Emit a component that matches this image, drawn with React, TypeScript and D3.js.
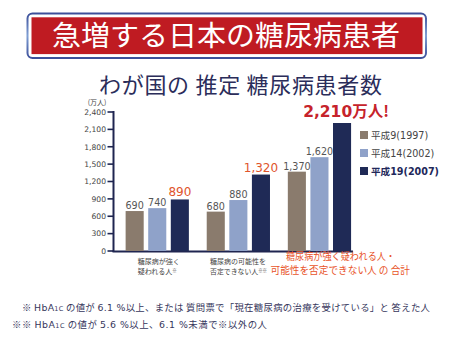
import React from "react";
import * as d3 from "d3";

const seriesNames = ["平成9(1997)", "平成14(2002)", "平成19(2007)"];
const seriesColors = ["#8a7b6d", "#8fa2c9", "#1f2a56"];
const groups = ["strong", "possible", "total"];
const h9 = [690, 680, 1370];
const h14 = [740, 880, 1620];
const h19 = [890, 1320, 2210];
const yTicks = [0, 300, 600, 900, 1200, 1500, 1800, 2100, 2400];
const catLines1 = ["糖尿病が強く", "疑われる人"];
const catLines2 = ["糖尿病の可能性を", "否定できない人"];
const catLines3 = ["糖尿病が強く疑われる人・", "可能性を否定できない人 の 合計"];

const W = 450;
const H = 338;
const CJK = "'Noto Sans CJK JP', 'Noto Sans', sans-serif";
const LAT = "'DejaVu Sans', Verdana, 'Noto Sans CJK JP', sans-serif";

export default function App() {
  const values = [h9, h14, h19];
  const y = d3.scaleLinear().domain([0, 2400]).range([251, 112]);
  const x0 = d3.scaleBand<string>().domain(groups).range([116.7, 360]).paddingInner(0.22).paddingOuter(0.11);
  const x1 = d3.scaleBand<string>().domain(seriesNames).range([0, x0.bandwidth()]).paddingInner(0.2);
  const fmt = d3.format(",");

  return (
    <svg width={W} height={H} style={{ position: "absolute", left: 0, top: 0, background: "#fff" }}>
      <defs>
        <linearGradient id="bord" x1="0" y1="0" x2="0" y2="1">
          <stop offset="0" stopColor="#3c4f9a" />
          <stop offset="0.5" stopColor="#7f9fd4" />
          <stop offset="1" stopColor="#3c4f9a" />
        </linearGradient>
      </defs>
      {/* Title banner */}
      <rect x={27.5} y={13.5} width={398.5} height={44.5} rx={5} fill="#fff" stroke="url(#bord)" strokeWidth={2} />
      <rect x={31.5} y={17.3} width={391} height={36.8} fill="#bf1b22" />
      <text x={52} y={46} fill="#fff" fontFamily={CJK} fontSize={28.5} textLength={348} lengthAdjust="spacingAndGlyphs">
        急増する日本の糖尿病患者
      </text>

      {/* Subtitle */}
      <text x={99} y={93} fill="#2b2d5a" fontFamily={CJK} fontSize={22} textLength={283} lengthAdjust="spacing" style={{ whiteSpace: "pre" }}>
        わが国の 推定 糖尿病患者数
      </text>

      {/* unit */}
      <text x={97} y={105} textAnchor="middle" fill="#444" fontFamily={CJK} fontSize={7}>(万人)</text>

      {/* y axis */}
      <line x1={113.5} x2={113.5} y1={y(2400) - 1} y2={y(0) + 1} stroke="#1f2550" strokeWidth={2} />
      {yTicks.map((t) => (
        <g key={t}>
          <line x1={107.5} x2={113.5} y1={y(t)} y2={y(t)} stroke="#1f2550" strokeWidth={1.6} />
          <text x={106} y={y(t) + 2.8} textAnchor="end" fill="#444" fontFamily={LAT} fontSize={7.6}>
            {fmt(t)}
          </text>
        </g>
      ))}
      {/* x axis */}
      <line x1={112.5} x2={353} y1={y(0) + 0.5} y2={y(0) + 0.5} stroke="#1f2550" strokeWidth={2} />

      {/* bars */}
      {groups.map((g, gi) => (
        <g key={g} transform={`translate(${x0(g)},0)`}>
          {seriesNames.map((s, si) => {
            const v = values[si][gi];
            const bx = x1(s)!;
            const bw = x1.bandwidth();
            return (
              <rect key={s} x={bx} y={y(v)} width={bw} height={y(0) - y(v)} fill={seriesColors[si]} />
            );
          })}
          {seriesNames.map((s, si) => {
            const v = values[si][gi];
            const cx = x1(s)! + x1.bandwidth() / 2;
            const highlight = si === 2 && gi < 2;
            const big = si === 2 && gi === 2;
            if (big) return null;
            return (
              <text
                key={s + "l"}
                x={cx}
                y={y(v) - (highlight ? 3 : 2)}
                textAnchor="middle"
                fill={highlight ? "#e0542b" : "#555"}
                fontFamily={LAT}
                fontSize={highlight ? 12 : 9.6}
              >
                {fmt(v)}
              </text>
            );
          })}
        </g>
      ))}

      {/* big total label */}
      <text
        x={x0("total")! + x1(seriesNames[2])! + x1.bandwidth() / 2 + 4}
        y={y(h19[2]) - 6}
        textAnchor="middle"
        fill="#c6232b"
        fontFamily={LAT}
        fontWeight="bold"
        fontSize={15.5}
      >
        {fmt(h19[2])}
        <tspan fontFamily={CJK} fontSize={15.5}>万人!</tspan>
      </text>

      {/* legend */}
      {seriesNames.map((s, i) => (
        <g key={s} transform={`translate(360,${135 + i * 18})`}>
          <rect x={0} y={-4} width={8} height={8} fill={seriesColors[i]} />
          <text x={11} y={3.6} fill={i === 2 ? "#22285a" : "#444"} fontFamily={LAT} fontSize={9.6} fontWeight={i === 2 ? "bold" : "normal"}>
            <tspan fontFamily={CJK}>{s.slice(0, 2)}</tspan>
            {s.slice(2)}
          </text>
        </g>
      ))}

      {/* category labels */}
      <g fontFamily={CJK} fill="#444" fontSize={7}>
        <text x={137.7} y={264.2}>{catLines1[0]}</text>
        <text x={137.7} y={274.2}>
          {catLines1[1]}
          <tspan fontSize={4.5} dy={-2}>※</tspan>
        </text>
        <text x={210} y={264.2}>{catLines2[0]}</text>
        <text x={210} y={274.2} textLength={57} lengthAdjust="spacingAndGlyphs">
          {catLines2[1]}
          <tspan fontSize={4.5} dy={-2}>※※</tspan>
        </text>
      </g>
      <g fontFamily={CJK} fill="#e8542a" fontSize={10}>
        <text x={286} y={260.3} textLength={109} lengthAdjust="spacingAndGlyphs">{catLines3[0]}</text>
        <text x={270.5} y={274.3} textLength={139.5} lengthAdjust="spacingAndGlyphs" style={{ whiteSpace: "pre" }}>{catLines3[1]}</text>
      </g>

      {/* footnotes */}
      <g fill="#36365c" fontSize={9.4} fontFamily={LAT}>
        <text x={22} y={311} textLength={408} lengthAdjust="spacing" style={{ whiteSpace: "pre" }}>
          <tspan fontFamily={CJK}>※ </tspan>HbA<tspan fontSize={6.5}>1C</tspan>
          <tspan fontFamily={CJK}> の値が </tspan>6.1 %<tspan fontFamily={CJK}>以上、または 質問票で「現在糖尿病の治療を受けている」と 答えた人</tspan>
        </text>
        <text x={12} y={328} textLength={255} lengthAdjust="spacing" style={{ whiteSpace: "pre" }}>
          <tspan fontFamily={CJK}>※※ </tspan>HbA<tspan fontSize={6.5}>1C</tspan>
          <tspan fontFamily={CJK}> の値が </tspan>5.6 %<tspan fontFamily={CJK}>以上、</tspan>6.1 %<tspan fontFamily={CJK}>未満で※以外の人</tspan>
        </text>
      </g>
    </svg>
  );
}
